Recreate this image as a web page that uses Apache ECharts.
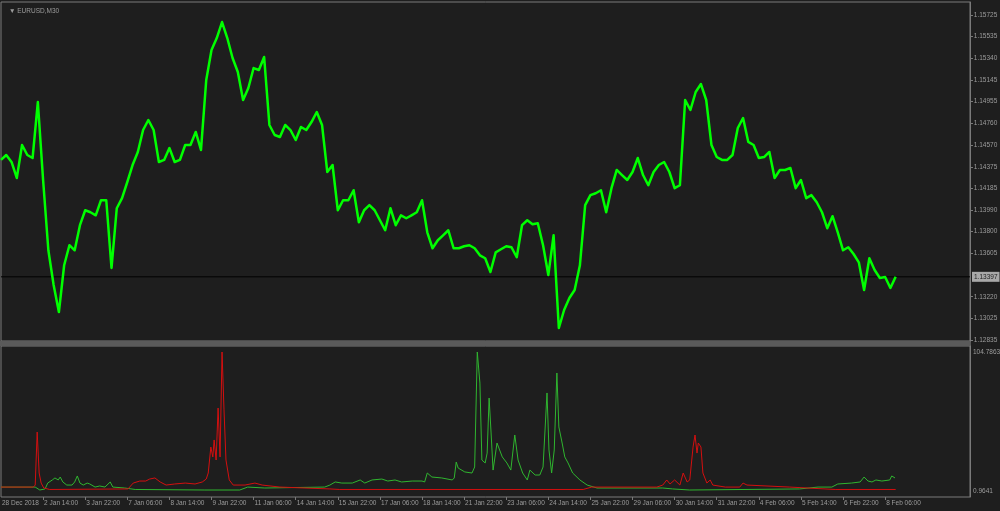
<!DOCTYPE html>
<html>
<head>
<meta charset="utf-8">
<title>EURUSD,M30</title>
<script src="https://cdn.jsdelivr.net/npm/echarts@6/dist/echarts.min.js"></script>
<style>
  html, body { margin: 0; padding: 0; background: #1e1e1e; }
  #chart { width: 1000px; height: 511px; }
</style>
</head>
<body>
<div id="chart"></div>
<script>
// bar index of each x-axis label (M30 bars, weekends skipped)
const timeTickBars = [0, 64, 128, 192, 256, 320, 384, 448, 512, 576, 640, 704,
  768, 832, 896, 960, 1024, 1088, 1152, 1216, 1280, 1344]
const timeTickLabels = ['28 Dec 2018', '2 Jan 14:00', '3 Jan 22:00', '7 Jan 06:00',
  '8 Jan 14:00', '9 Jan 22:00', '11 Jan 06:00', '14 Jan 14:00', '15 Jan 22:00',
  '17 Jan 06:00', '18 Jan 14:00', '21 Jan 22:00', '23 Jan 06:00', '24 Jan 14:00',
  '25 Jan 22:00', '29 Jan 06:00', '30 Jan 14:00', '31 Jan 22:00', '4 Feb 06:00',
  '5 Feb 14:00', '6 Feb 22:00', '8 Feb 06:00']

const priceTicks = [1.15725, 1.15535, 1.15340, 1.15145, 1.14955, 1.14760, 1.14570,
  1.14375, 1.14185, 1.13990, 1.13800, 1.13605, 1.13220, 1.13025, 1.12835]
const lastPrice = 1.13397
const indicatorTicks = [0.9641, 104.7863]

// close price, one value every 8 bars
const PRICE_STEP = 8
const priceClose = [
  1.14436, 1.14480, 1.14418, 1.14276, 1.14569, 1.14480, 1.14453, 1.14951, 1.14258, 1.13633,
  1.13324, 1.13084, 1.13500, 1.13678, 1.13633, 1.13856, 1.13989, 1.13971, 1.13944, 1.14078,
  1.14078, 1.13476, 1.14007, 1.14096, 1.14240, 1.14391, 1.14507, 1.14702, 1.14791, 1.14702,
  1.14418, 1.14436, 1.14542, 1.14418, 1.14436, 1.14569, 1.14569, 1.14685, 1.14525, 1.15147,
  1.15414, 1.15520, 1.15662, 1.15520, 1.15342, 1.15218, 1.14969, 1.15076, 1.15253, 1.15236,
  1.15351, 1.14747, 1.14658, 1.14640, 1.14747, 1.14702, 1.14613, 1.14729, 1.14702, 1.14773,
  1.14862, 1.14747, 1.14329, 1.14391, 1.13989, 1.14078, 1.14078, 1.14167, 1.13882, 1.13989,
  1.14034, 1.13989, 1.13900, 1.13811, 1.14007, 1.13856, 1.13944, 1.13918, 1.13944, 1.13971,
  1.14078, 1.13793, 1.13651, 1.13722, 1.13766, 1.13811, 1.13651, 1.13651, 1.13669, 1.13678,
  1.13651, 1.13588, 1.13562, 1.13440, 1.13615, 1.13642, 1.13669, 1.13660, 1.13571, 1.13856,
  1.13900, 1.13864, 1.13873, 1.13678, 1.13413, 1.13766, 1.12942, 1.13102, 1.13209, 1.13280,
  1.13500, 1.14034, 1.14123, 1.14140, 1.14167, 1.13971, 1.14185, 1.14347, 1.14302, 1.14258,
  1.14329, 1.14453, 1.14302, 1.14211, 1.14329, 1.14391, 1.14418, 1.14329, 1.14185, 1.14211,
  1.14969, 1.14880, 1.15040, 1.15111, 1.14969, 1.14569, 1.14462, 1.14436, 1.14436, 1.14480,
  1.14720, 1.14809, 1.14596, 1.14569, 1.14453, 1.14462, 1.14507, 1.14276, 1.14347, 1.14347,
  1.14365, 1.14185, 1.14258, 1.14096, 1.14123, 1.14060, 1.13971, 1.13829, 1.13936, 1.13793,
  1.13633, 1.13660, 1.13600, 1.13526, 1.13280, 1.13562, 1.13458, 1.13387, 1.13395, 1.13298,
  1.13397
]

// lower window indicator lines, [bar, value]
const greenLine = [
  [0, 3.9], [52, 3.9], [59, 1.7], [67, 2.5], [71, 6.9], [78, 9.2], [82, 10.7], [87, 9.2],
  [90, 11.4], [94, 7.7], [100, 5.4], [108, 5.4], [112, 7.7], [116, 12.2], [120, 6.9],
  [125, 5.4], [131, 6.9], [135, 6.2], [143, 3.9], [150, 4.7], [158, 3.9], [166, 7.7],
  [170, 3.9], [188, 3.2], [204, 2.1], [310, 1.7], [363, 1.7], [375, 3.9], [401, 3.2],
  [492, 3.9], [500, 5.4], [508, 7.7], [518, 6.9], [534, 6.9], [546, 9.2], [553, 6.9],
  [564, 9.2], [579, 9.9], [588, 8.4], [599, 9.2], [609, 7.7], [625, 8.4], [640, 8.4],
  [644, 7.7], [648, 14.4], [655, 11.4], [670, 10.7], [686, 9.2], [689, 10.7], [692, 22.6],
  [695, 18.1], [705, 15.2], [716, 14.4], [720, 18.9], [724, 104.8], [728, 81.6], [731, 24.1],
  [736, 21.9], [739, 29.3], [742, 70.4], [745, 44.3], [748, 16.6], [754, 36.8], [762, 26.4],
  [769, 21.9], [775, 16.6], [781, 42.8], [786, 24.1], [793, 14.4], [800, 9.2], [804, 16.6],
  [812, 12.9], [819, 12.9], [824, 18.9], [830, 74.2], [833, 31.6], [837, 14.4], [841, 31.6],
  [845, 89.1], [848, 48.8], [853, 36.8], [857, 26.4], [862, 21.9], [869, 14.4], [880, 9.2],
  [891, 5.4], [906, 3.2], [1006, 3.2], [1021, 2.5], [1047, 1.7], [1214, 2.5], [1242, 3.9],
  [1263, 3.9], [1272, 6.2], [1293, 6.9], [1306, 7.7], [1312, 11.4], [1318, 8.4], [1324, 7.7],
  [1330, 9.2], [1339, 8.4], [1351, 9.2], [1354, 12.2], [1359, 10.7]
]
const redLine = [
  [0, 3.9], [49, 3.9], [52, 5.4], [55, 45.0], [58, 14.4], [61, 6.9], [65, 3.2], [74, 2.1],
  [193, 2.5], [201, 6.9], [211, 8.4], [220, 8.4], [226, 9.9], [234, 10.7], [242, 7.7],
  [251, 5.4], [264, 6.2], [280, 6.9], [295, 6.2], [306, 7.7], [312, 9.9], [315, 14.4],
  [319, 33.8], [322, 26.4], [324, 39.1], [327, 24.1], [330, 62.9], [333, 26.4], [336, 104.8],
  [339, 61.5], [342, 24.1], [347, 9.2], [353, 5.4], [371, 5.4], [386, 6.9], [397, 5.4],
  [424, 3.9], [500, 2.5], [515, 2.1], [885, 2.1], [898, 3.9], [997, 3.9], [1006, 5.4],
  [1012, 9.2], [1017, 6.2], [1024, 9.2], [1032, 5.4], [1037, 14.4], [1043, 7.7], [1047, 9.2],
  [1052, 33.8], [1055, 42.8], [1058, 29.3], [1060, 36.8], [1064, 33.8], [1067, 14.4],
  [1073, 6.9], [1078, 9.2], [1082, 5.4], [1101, 3.9], [1123, 3.9], [1128, 6.9], [1134, 5.4],
  [1199, 3.9], [1268, 2.1], [1360, 2.1]
]

const X_MAX = 1473
const textColor = '#9c9c9c'
const frameColor = '#7a7a7a'
const font = 'Liberation Sans'

const chart = echarts.init(document.getElementById('chart'), null, { renderer: 'canvas' })
const option = {
  animation: false,
  backgroundColor: '#1e1e1e',
  title: {
    text: '\u25BC EURUSD,M30',
    left: 4,
    top: 3,
    textStyle: { color: textColor, fontSize: 6.5, fontWeight: 'normal', fontFamily: font },
  },
  graphic: [{
    type: 'rect',
    shape: { x: 0, y: 341, width: 971, height: 5 },
    style: { fill: '#5a5a5a' },
    silent: true,
  }],
  grid: [{
    left: 1, top: 2, width: 969, height: 339,
    outerBoundsMode: 'none',
    show: true, borderColor: frameColor, borderWidth: 1, backgroundColor: '#1e1e1e',
  }, {
    left: 1, top: 346, width: 969, height: 151,
    outerBoundsMode: 'none',
    show: true, borderColor: frameColor, borderWidth: 1, backgroundColor: '#1e1e1e',
  }],
  xAxis: [{
    type: 'value',
    gridIndex: 0,
    min: 0,
    max: X_MAX,
    axisLine: { show: false, onZero: false },
    axisTick: { show: false },
    axisLabel: { show: false },
    splitLine: { show: false },
  }, {
    type: 'value',
    gridIndex: 1,
    position: 'bottom',
    min: 0,
    max: X_MAX,
    axisLine: { show: false, onZero: false },
    splitLine: { show: false },
    axisTick: {
      show: true,
      customValues: timeTickBars.slice(1),
      length: 3,
      lineStyle: { color: frameColor },
    },
    axisLabel: {
      show: true,
      customValues: timeTickBars,
      align: 'left',
      margin: 3,
      padding: [0, 0, 0, 1],
      color: textColor,
      fontSize: 6.5,
      fontFamily: font,
      formatter: (v) => timeTickLabels[timeTickBars.indexOf(v)],
    },
  }],
  yAxis: [{
    type: 'value',
    gridIndex: 0,
    position: 'right',
    min: 1.128265,
    max: 1.158402,
    axisLine: { show: true, onZero: false, lineStyle: { color: frameColor } },
    splitLine: { show: false },
    axisTick: {
      show: true,
      customValues: priceTicks,
      length: 3,
      lineStyle: { color: frameColor },
    },
    axisLabel: {
      customValues: priceTicks.concat([lastPrice]),
      margin: 2,
      color: textColor,
      fontSize: 6.5,
      fontFamily: font,
      formatter: (v) => v === lastPrice ? '{cur|' + v.toFixed(5) + '}' : ' ' + v.toFixed(5),
      rich: {
        cur: {
          color: '#1e1e1e',
          backgroundColor: '#a8a8a8',
          padding: [2, 2, 1, 2],
          fontSize: 6.5,
          fontFamily: font,
        },
      },
    },
  }, {
    type: 'value',
    gridIndex: 1,
    position: 'right',
    min: -3.52,
    max: 109.28,
    axisLine: { show: true, onZero: false, lineStyle: { color: frameColor } },
    splitLine: { show: false },
    axisTick: { show: false },
    axisLabel: {
      customValues: indicatorTicks,
      margin: 3,
      color: textColor,
      fontSize: 6.5,
      fontFamily: font,
      formatter: (v) => v.toFixed(4),
    },
  }],
  series: [{
    name: 'last price',
    type: 'line',
    xAxisIndex: 0,
    yAxisIndex: 0,
    showSymbol: false,
    silent: true,
    z: 1,
    data: [[0, lastPrice], [X_MAX, lastPrice]],
    lineStyle: { color: '#000000', width: 1 },
  }, {
    name: 'EURUSD,M30',
    type: 'line',
    xAxisIndex: 0,
    yAxisIndex: 0,
    showSymbol: false,
    z: 2,
    data: priceClose.map((v, i) => [i * PRICE_STEP, v]),
    lineStyle: { color: '#00ff00', width: 2.5, join: 'round' },
    itemStyle: { color: '#00ff00' },
  }, {
    name: 'green',
    type: 'line',
    xAxisIndex: 1,
    yAxisIndex: 1,
    showSymbol: false,
    data: greenLine,
    lineStyle: { color: '#2fb52f', width: 1 },
  }, {
    name: 'red',
    type: 'line',
    xAxisIndex: 1,
    yAxisIndex: 1,
    showSymbol: false,
    data: redLine,
    lineStyle: { color: '#d40f0f', width: 1 },
  }],
}
chart.setOption(option)
</script>
</body>
</html>
